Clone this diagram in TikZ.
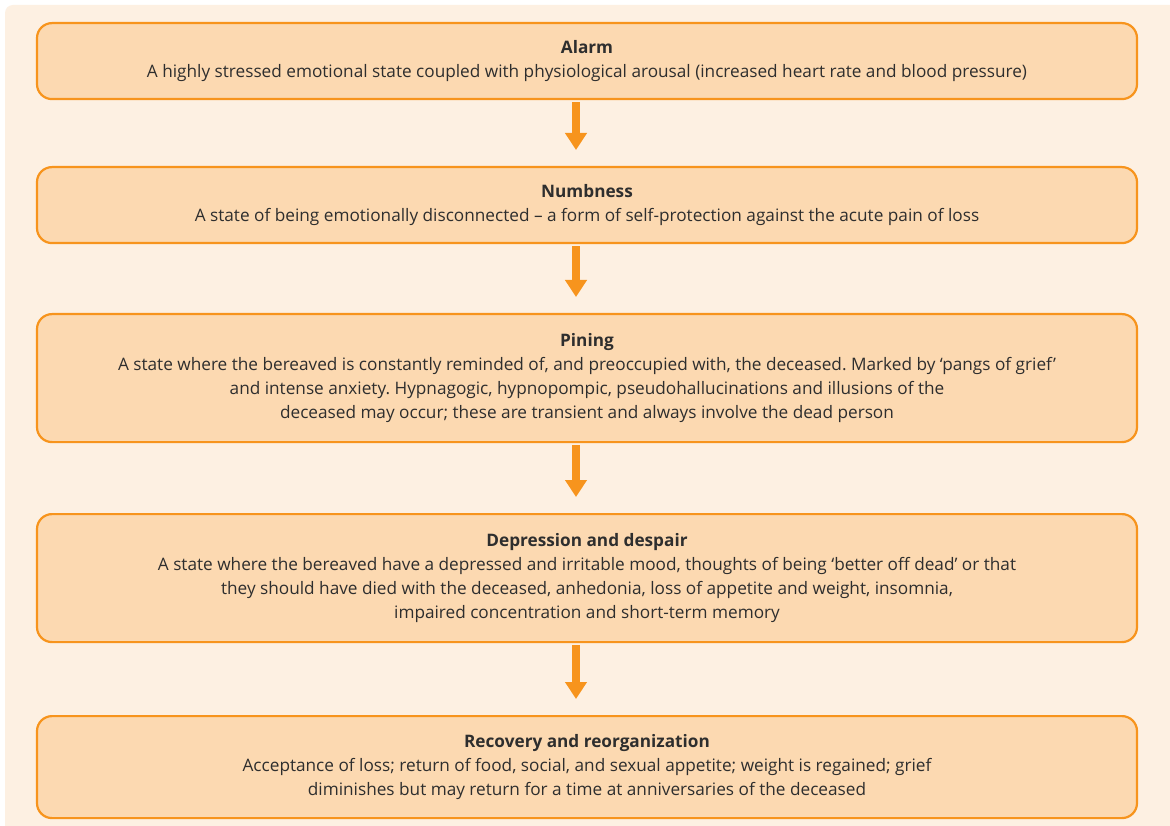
\documentclass[tikz,border=0pt]{standalone}
\usepackage{fontspec}
\setmainfont{Open Sans}
\usetikzlibrary{arrows.meta}
\definecolor{panel}{HTML}{FDF0E2}
\definecolor{boxfill}{HTML}{FCD9B1}
\definecolor{edge}{HTML}{F7941D}
\definecolor{ink}{HTML}{2E2E2E}
\frenchspacing
\begin{document}
\begin{tikzpicture}[x=1pt,y=-1pt,
  stage/.style={draw=edge, line width=2.2pt, fill=boxfill, rounded corners=15pt,
    minimum width=1100pt, align=center, text=ink, font=\fontsize{17.2}{24}\selectfont,
    anchor=north, inner sep=0pt},
  flow/.style={draw=edge, line width=8pt, -{Triangle[width=21pt,length=17pt]},
    shorten <=2pt, shorten >=16pt}]
  % canvas and peach panel
  \useasboundingbox (0,0) rectangle (1170,826);
  \fill[white] (0,0) rectangle (1170,826);
  \fill[panel, rounded corners=8pt] (5,5) rectangle (1185,840);
  % stages
  \node[stage, minimum height=76pt] (alarm) at (587,22)
    {\textbf{Alarm}\\A highly stressed emotional state coupled with physiological arousal (increased heart rate and blood pressure)};
  \node[stage, minimum height=76pt] (numb) at (587,166)
    {\textbf{Numbness}\\A state of being emotionally disconnected -- a form of self-protection against the acute pain of loss};
  \node[stage, minimum height=128pt] (pining) at (587,313)
    {\textbf{Pining}\\A state where the bereaved is constantly reminded of, and preoccupied with, the deceased. Marked by ‘pangs of grief’\\and intense anxiety. Hypnagogic, hypnopompic, pseudohallucinations and illusions of the\\deceased may occur; these are transient and always involve the dead person};
  \node[stage, minimum height=128pt] (despair) at (587,513)
    {\textbf{Depression and despair}\\A state where the bereaved have a depressed and irritable mood, thoughts of being ‘better off dead’ or that\\they should have died with the deceased, anhedonia, loss of appetite and weight, insomnia,\\impaired concentration and short-term memory};
  \node[stage, minimum height=102pt] (recovery) at (587,715)
    {\textbf{Recovery and reorganization}\\Acceptance of loss; return of food, social, and sexual appetite; weight is regained; grief\\diminishes but may return for a time at anniversaries of the deceased};
  % arrows between stages
  \draw[flow] (alarm.south -| 576,0) -- (numb.north -| 576,0);
  \draw[flow] (numb.south -| 576,0) -- (pining.north -| 576,0);
  \draw[flow] (pining.south -| 576,0) -- (despair.north -| 576,0);
  \draw[flow] (despair.south -| 576,0) -- (recovery.north -| 576,0);
\end{tikzpicture}
\end{document}
